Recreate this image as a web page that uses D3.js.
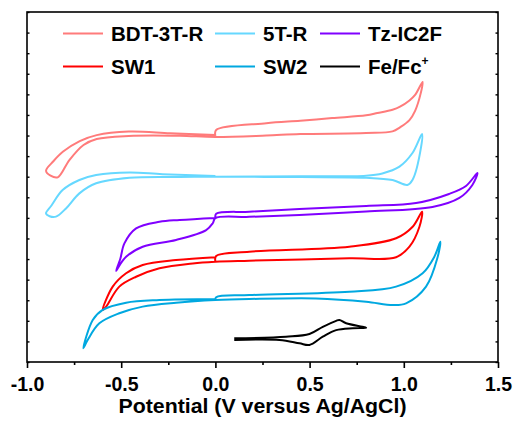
<!DOCTYPE html>
<html>
<head>
<meta charset="utf-8">
<script src="https://cdn.jsdelivr.net/npm/d3@7"></script>
<style>
  body { margin: 0; background: #fff; }
  svg text { font-family: "Liberation Sans", Arial, sans-serif; font-weight: bold; }
</style>
</head>
<body>
<svg id="chart" width="514" height="421"></svg>
<script>
// tick labels of the potential axis
const xTicks = [-1.0, -0.5, 0.0, 0.5, 1.0, 1.5];
const xMinorTicks = [-0.75, -0.25, 0.25, 0.75, 1.25];
// current axis has no labels, only ticks (arbitrary units)
const yTicks = d3.range(0, 18, 1);

const names = ["BDT-3T-R", "5T-R", "Tz-IC2F", "SW1", "SW2", "Fe/Fc"];
const colors = ["#ff7b7b", "#66d8ff", "#8000ff", "#ff0000", "#00a8e0", "#000000"];

// [potential V, current a.u.], one closed scan each
const bdt = [
  [0, 10.98], [0.004, 11.27], [0.27, 11.6], [0.45, 11.72], [0.62, 11.85], [0.80, 11.98], [0.86, 12.09],
  [0.94, 12.25], [0.98, 12.4], [1.03, 12.7], [1.06, 12.97], [1.1, 13.6],
  [1.09, 13.06], [1.06, 12.2], [1.03, 11.75], [0.98, 11.4], [0.94, 11.2], [0.8, 11.12], [0.45, 11.07],
  [0.27, 11.0], [0, 10.93], [-0.19, 10.99], [-0.46, 10.98], [-0.63, 10.83], [-0.70, 10.54],
  [-0.775, 9.81], [-0.837, 8.97], [-0.875, 9.05], [-0.899, 9.29], [-0.86, 9.75], [-0.81, 10.21],
  [-0.72, 10.73], [-0.63, 11.02], [-0.46, 11.19], [-0.24, 11.11], [0, 11.02]
];
const t5 = [
  [0, 9.0], [0.45, 9.02], [0.80, 9.05], [0.886, 9.16], [0.977, 9.49], [1.046, 10.15], [1.097, 11.07],
  [1.092, 10.46], [1.046, 8.84], [1.019, 8.60], [0.94, 8.84], [0.80, 8.95], [0.45, 8.98], [0, 9.0],
  [-0.19, 8.99], [-0.456, 8.95], [-0.633, 8.68], [-0.722, 8.19], [-0.793, 7.46], [-0.846, 7.06],
  [-0.88, 7.08], [-0.899, 7.22], [-0.87, 7.6], [-0.811, 8.35], [-0.722, 8.84], [-0.633, 9.08],
  [-0.456, 9.21], [-0.281, 9.12], [0, 9.03]
];
const tz = [
  [0, 7.0], [0.004, 7.2], [0.18, 7.3], [0.446, 7.43], [0.80, 7.58], [1.065, 7.72], [1.24, 8.16],
  [1.33, 8.55], [1.391, 9.18], [1.364, 8.6], [1.295, 7.97], [1.152, 7.53], [0.80, 7.31],
  [0.446, 7.14], [0.18, 7.05], [0, 6.99], [-0.014, 6.74], [-0.049, 6.41], [-0.209, 5.93],
  [-0.386, 5.60], [-0.474, 5.11], [-0.519, 4.55], [-0.527, 4.43], [-0.505, 5.0], [-0.483, 5.76],
  [-0.421, 6.49], [-0.297, 6.81], [-0.19, 6.90], [0, 7.0]
];
const sw1 = [
  [0, 4.87], [0.004, 5.15], [0.18, 5.36], [0.711, 5.60], [0.959, 6.01], [1.047, 6.57], [1.097, 7.30],
  [1.083, 6.57], [1.03, 5.60], [0.959, 5.09], [0.711, 5.04], [0.18, 4.92], [0, 4.87],
  [-0.12, 4.79], [-0.297, 4.55], [-0.421, 4.14], [-0.51, 3.66], [-0.58, 2.69], [-0.598, 2.53],
  [-0.545, 3.66], [-0.474, 4.31], [-0.386, 4.71], [-0.209, 4.95], [0, 5.09]
];
const sw2 = [
  [0, 2.98], [0.004, 3.15], [0.18, 3.25], [0.711, 3.41], [0.959, 3.66], [1.10, 4.31], [1.162, 5.11],
  [1.194, 5.84], [1.18, 5.11], [1.118, 3.66], [1.012, 2.85], [0.941, 2.77], [0.8, 2.93],
  [0.534, 3.09], [0.18, 3.06], [0, 3.01], [-0.209, 2.88], [-0.386, 2.69], [-0.51, 2.37],
  [-0.616, 1.88], [-0.678, 1.07], [-0.701, 0.67], [-0.651, 2.04], [-0.598, 2.53], [-0.474, 2.88],
  [-0.297, 3.01], [0, 3.06]
];
const fc = [
  [0.10, 1.15], [0.375, 1.23], [0.499, 1.36], [0.570, 1.71], [0.641, 2.0], [0.658, 2.04],
  [0.694, 1.88], [0.791, 1.69], [0.80, 1.66], [0.729, 1.64], [0.641, 1.55], [0.570, 1.23],
  [0.499, 0.83], [0.446, 0.91], [0.34, 1.07], [0.10, 1.07]
];
const allSeries = [bdt, t5, tz, sw1, sw2, fc];

const svg = d3.select("#chart");
const plotLeft = 27, plotRight = 498, plotTop = 12, plotBottom = 362;

const x = d3.scaleLinear().domain([-1.0, 1.5]).range([plotLeft, plotRight]);
const y = d3.scaleLinear().domain([0, 17]).range([plotBottom, plotTop]);

// curves
const line = d3.line()
    .x(d => x(d[0]))
    .y(d => y(d[1]))
    .curve(d3.curveCatmullRom.alpha(0.5));

svg.selectAll("path.cv")
    .data(allSeries)
    .enter()
    .append("path")
    .attr("class", "cv")
    .attr("d", line)
    .attr("fill", "none")
    .attr("stroke", (d, i) => colors[i])
    .attr("stroke-width", 2)
    .attr("stroke-linejoin", "round");

// frame
svg.append("rect")
    .attr("x", plotLeft).attr("y", plotTop)
    .attr("width", plotRight - plotLeft).attr("height", plotBottom - plotTop)
    .attr("fill", "none").attr("stroke", "#000").attr("stroke-width", 1.6);

// bottom axis, major ticks with labels
const xAxis = svg.append("g").attr("transform", "translate(0," + plotBottom + ")");
xAxis.call(d3.axisBottom(x).tickValues(xTicks).tickSize(6)
    .tickFormat(d => d < 0 ? "-" + Math.abs(d).toFixed(1) : d.toFixed(1)));
xAxis.selectAll("text")
    .attr("fill", "#000")
    .attr("dy", 0)
    .attr("y", 29)
    .style("font-size", "19.5px");
// minor ticks, no labels
const xMinor = svg.append("g").attr("transform", "translate(0," + plotBottom + ")");
xMinor.call(d3.axisBottom(x).tickValues(xMinorTicks).tickSize(3).tickFormat(""));
xMinor.selectAll("text").remove();
svg.selectAll(".domain").remove();
xAxis.selectAll("line").attr("stroke", "#000").attr("stroke-width", 1.6);
xMinor.selectAll("line").attr("stroke", "#000").attr("stroke-width", 1.6);

// inner ticks on both sides
const yl = svg.append("g").attr("transform", "translate(" + plotLeft + ",0)");
yl.call(d3.axisRight(y).tickValues(yTicks).tickSize(2.5).tickFormat(""));
const yr = svg.append("g").attr("transform", "translate(" + plotRight + ",0)");
yr.call(d3.axisLeft(y).tickValues(yTicks).tickSize(2.5).tickFormat(""));
svg.selectAll(".domain").remove();
yl.selectAll("line").attr("stroke-width", 1.4);
yr.selectAll("line").attr("stroke-width", 1.4);

svg.append("text")
    .attr("x", (plotLeft + plotRight) / 2)
    .attr("y", 413)
    .attr("text-anchor", "middle")
    .attr("textLength", 288)
    .attr("lengthAdjust", "spacingAndGlyphs")
    .style("font-size", "19.5px")
    .text("Potential (V versus Ag/AgCl)");

// legend
const legendX = [63, 215, 320];
const legendY = [33.5, 66.5];
names.forEach((name, i) => {
  const col = i % 3, row = Math.floor(i / 3);
  const lx = legendX[col], ly = legendY[row];
  svg.append("line")
      .attr("x1", lx).attr("x2", lx + 40)
      .attr("y1", ly).attr("y2", ly)
      .attr("stroke", colors[i]).attr("stroke-width", 2.2);
  const t = svg.append("text")
      .attr("x", lx + 48)
      .attr("y", ly + 7)
      .style("font-size", "20.5px")
      .text(name);
  if (name === "Fe/Fc") {
    t.append("tspan").attr("dy", -9).style("font-size", "12px").text("+");
  }
});
</script>
</body>
</html>
